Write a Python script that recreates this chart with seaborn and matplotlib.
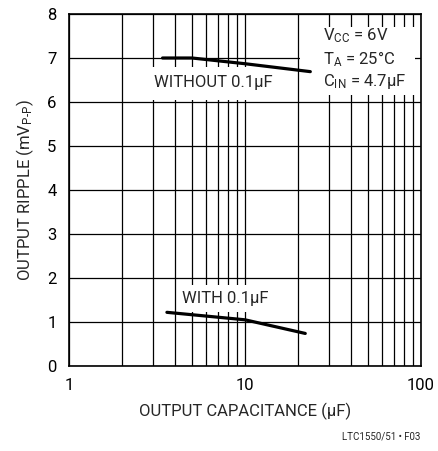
import numpy as np
import pandas as pd
import seaborn as sns
import matplotlib.pyplot as plt
from matplotlib.patches import Rectangle
from matplotlib.ticker import LogLocator, NullFormatter, FixedLocator

# data
cap_without = [3.4, 5.0, 10.0, 23.5]
ripple_without = [7.0, 7.0, 6.87, 6.69]
cap_with = [3.6, 10.0, 22.0]
ripple_with = [1.22, 1.05, 0.74]
x_ticks = [1, 10, 100]
y_ticks = [0, 1, 2, 3, 4, 5, 6, 7, 8]

df = pd.concat([
    pd.DataFrame({'cap': cap_without, 'ripple': ripple_without, 'case': 'without'}),
    pd.DataFrame({'cap': cap_with, 'ripple': ripple_with, 'case': 'with'}),
])

sns.set_style('white')
fnt = ['Roboto', 'DejaVu Sans']
plt.rcParams['font.family'] = fnt
plt.rcParams['mathtext.fontset'] = 'custom'
plt.rcParams['mathtext.rm'] = 'Roboto'
plt.rcParams['mathtext.it'] = 'Roboto'

fig = plt.figure(figsize=(4.39, 4.51), dpi=100)
ax = fig.add_axes([69 / 439, 1 - 366 / 451, 352 / 439, 352 / 451])

sns.lineplot(data=df, x='cap', y='ripple', units='case', estimator=None,
             color='black', lw=2.3, ax=ax, zorder=5, legend=False)

ax.set_xscale('log')
ax.set_xlim(1, 100)
ax.set_ylim(0, 8)
ax.xaxis.set_major_locator(FixedLocator(x_ticks))
ax.set_xticklabels([str(v) for v in x_ticks])
ax.xaxis.set_minor_locator(LogLocator(base=10, subs=np.arange(2, 10)))
ax.xaxis.set_minor_formatter(NullFormatter())
ax.set_yticks(y_ticks)
ax.grid(True, which='both', axis='x', color='black', lw=0.9)
ax.grid(True, which='major', axis='y', color='black', lw=0.9)
ax.tick_params(which='both', length=0, labelsize=12, colors='black')
ax.tick_params(axis='x', pad=9)
ax.tick_params(axis='y', pad=9)
for s in ax.spines.values():
    s.set_color('black')
    s.set_linewidth(1.2)

ax.set_xlabel('OUTPUT CAPACITANCE (µF)', fontsize=12, labelpad=7)
ax.set_ylabel(r'OUTPUT RIPPLE (mV$_{\mathrm{P\text{-}P}}$)', fontsize=12, labelpad=8)

# white boxes behind the labels (they break the grid)
for x0, x1, y0, y1 in [(2.81, 16.4, 6.05, 6.80), (4.87, 19.2, 1.22, 1.83),
                       (20.6, 92, 6.16, 7.70)]:
    ax.add_patch(Rectangle((x0, y0), x1 - x0, y1 - y0, facecolor='white',
                           edgecolor='none', zorder=2))

ax.text(3.05, 6.45, 'WITHOUT 0.1µF', fontsize=12, va='center', ha='left', zorder=6)
ax.text(4.4, 1.54, 'WITH 0.1µF', fontsize=12, va='center', ha='left', zorder=6)
ax.text(27.7, 6.98, 'V$_{\\mathrm{CC}}$ = 6V\nT$_{\\mathrm{A}}$ = 25°C\nC$_{\\mathrm{IN}}$ = 4.7µF',
        fontsize=12, va='center', ha='left', linespacing=1.25, zorder=6)

fig.text(420 / 439, 1 - 437 / 451, 'LTC1550/51 • F03', fontsize=7,
         ha='right', va='center')

fig.savefig('out.png', dpi=100)
